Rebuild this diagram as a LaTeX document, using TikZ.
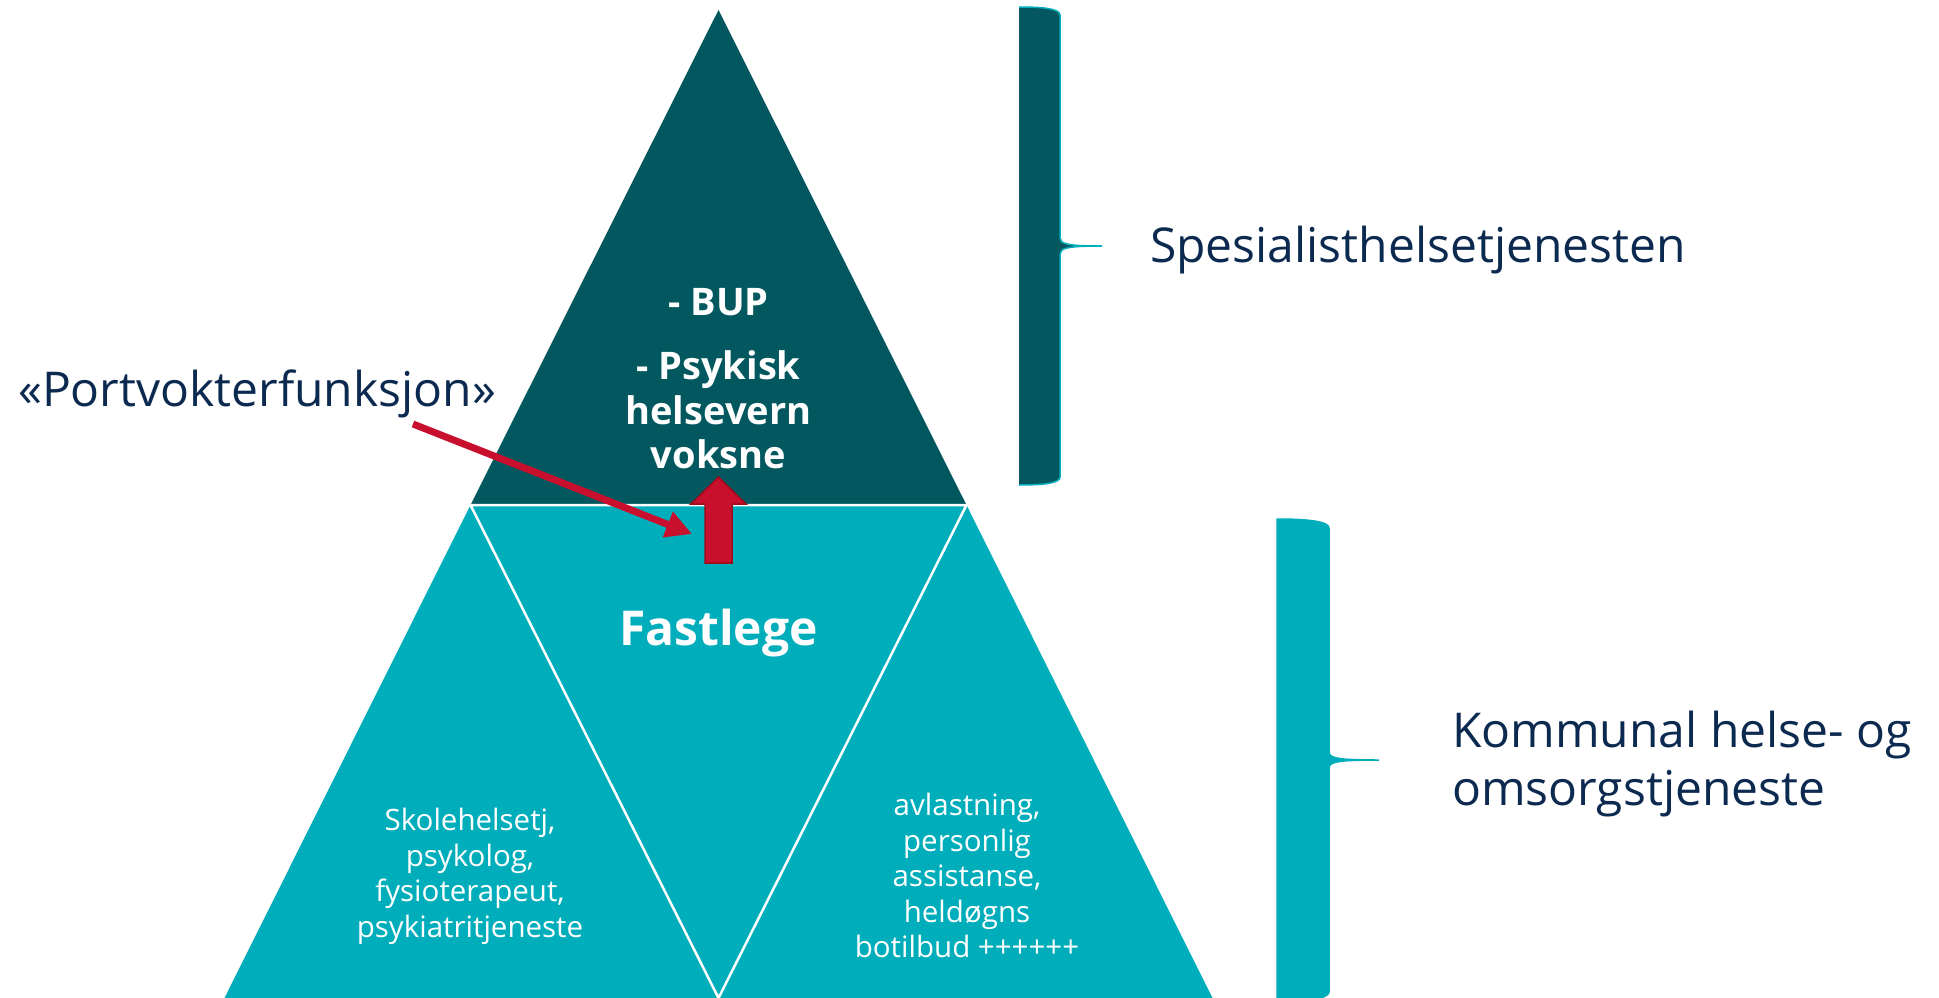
\documentclass[tikz,border=0pt]{standalone}
\usepackage{fontspec}
\setmainfont{Open Sans}
\usetikzlibrary{arrows.meta}
\definecolor{darkteal}{HTML}{02585E}
\definecolor{tealc}{HTML}{00ADBB}
\definecolor{navyc}{HTML}{0C2A50}
\definecolor{redc}{HTML}{C8102E}
\definecolor{redd}{HTML}{9E0B1B}
\tikzset{
  sidelbl/.style={text=navyc, inner sep=0pt, anchor=base west},
  toplbl/.style={text=white, inner sep=0pt, anchor=base, font=\fontsize{38}{45}\selectfont\bfseries},
  leftlbl/.style={text=white, inner sep=0pt, anchor=base, font=\fontsize{29.5}{35}\selectfont},
  rightlbl/.style={text=white, inner sep=0pt, anchor=base, font=\fontsize{29.5}{35}\selectfont},
  divider/.style={white, line width=2.5pt, line join=round},
  bracefill/.style={line width=1.5pt},
}
\begin{document}
\begin{tikzpicture}[x=1pt,y=-1pt]
\useasboundingbox (0,0) rectangle (1939,998);
% pyramid
\coordinate (apex) at (718.5,10);
\coordinate (tl) at (470.5,505);
\coordinate (tr) at (966.5,505);
\coordinate (bl) at (224.5,998);
\coordinate (bm) at (718.5,998);
\coordinate (br) at (1212.5,998);
\fill[darkteal] (apex) -- (tr) -- (tl) -- cycle;
\fill[tealc] (tl) -- (tr) -- (br) -- (bl) -- cycle;
\draw[divider] (tl) -- (bm) -- (tr) -- cycle;
% top brace
\fill[darkteal] (1019,7) .. controls (1045,7) and (1060,9) .. (1060,15)
  -- (1060,238) .. controls (1060,244) and (1068,246) .. (1102,246)
  .. controls (1068,246) and (1060,248) .. (1060,254)
  -- (1060,477) .. controls (1060,483) and (1045,485) .. (1019,485) -- cycle;
\draw[tealc, bracefill] (1019,7) .. controls (1045,7) and (1060,9) .. (1060,15)
  -- (1060,238) .. controls (1060,244) and (1068,246) .. (1102,246)
  .. controls (1068,246) and (1060,248) .. (1060,254)
  -- (1060,477) .. controls (1060,483) and (1045,485) .. (1019,485);
% bottom brace
\filldraw[fill=tealc, draw=tealc, bracefill] (1277,519) .. controls (1305,519) and (1329,521) .. (1329,528)
  -- (1329,752) .. controls (1329,758) and (1337,760) .. (1379,760)
  .. controls (1337,760) and (1329,762) .. (1329,768)
  -- (1329,992) .. controls (1329,999) and (1305,1001) .. (1277,1001) -- cycle;
% side labels
\node[sidelbl, font=\fontsize{48}{56}\selectfont] (spes) at (1150,262) {Spesialisthelsetjenesten};
\node[sidelbl, font=\fontsize{48}{58}\selectfont] (komm1) at (1452,747) {Kommunal helse- og};
\node[sidelbl, font=\fontsize{48}{58}\selectfont] (komm2) at (1452,805) {omsorgstjeneste};
\node[sidelbl, font=\fontsize{48}{56}\selectfont] (port) at (18,406) {«Portvokterfunksjon»};
% top triangle text
\node[toplbl] (bup) at (718.5,315) {- BUP};
\node[toplbl] (psyk1) at (718.5,379) {- Psykisk};
\node[toplbl] (psyk2) at (718.5,424) {helsevern};
\node[toplbl] (psyk3) at (718.5,468) {voksne};
% Fastlege
\node[text=white, inner sep=0pt, anchor=base, font=\fontsize{48}{56}\selectfont\bfseries] (fast) at (718.5,645) {Fastlege};
% left text
\node[leftlbl] (l1) at (470,830) {Skolehelsetj,};
\node[leftlbl] (l2) at (470,866) {psykolog,};
\node[leftlbl] (l3) at (470,901) {fysioterapeut,};
\node[leftlbl] (l4) at (470,937) {psykiatritjeneste};
% right text
\node[rightlbl] (r1) at (967,815) {avlastning,};
\node[rightlbl] (r2) at (967,851) {personlig};
\node[rightlbl] (r3) at (967,886) {assistanse,};
\node[rightlbl] (r4) at (967,922) {heldøgns};
\node[rightlbl] (r5) at (967,957) {botilbud ++++++};
% red block arrow
\filldraw[fill=redc, draw=redd, line width=1.5pt, line join=miter]
  (705,563) -- (705,504) -- (691,504) -- (718.5,477) -- (746,504) -- (732,504) -- (732,563) -- cycle;
% thin arrow
\coordinate (pstart) at (413,424);
\coordinate (ptip) at (692,534);
\draw[redc, line width=7pt, -{Triangle[length=26pt,width=26pt]}] (pstart) -- (ptip);
\end{tikzpicture}
\end{document}
